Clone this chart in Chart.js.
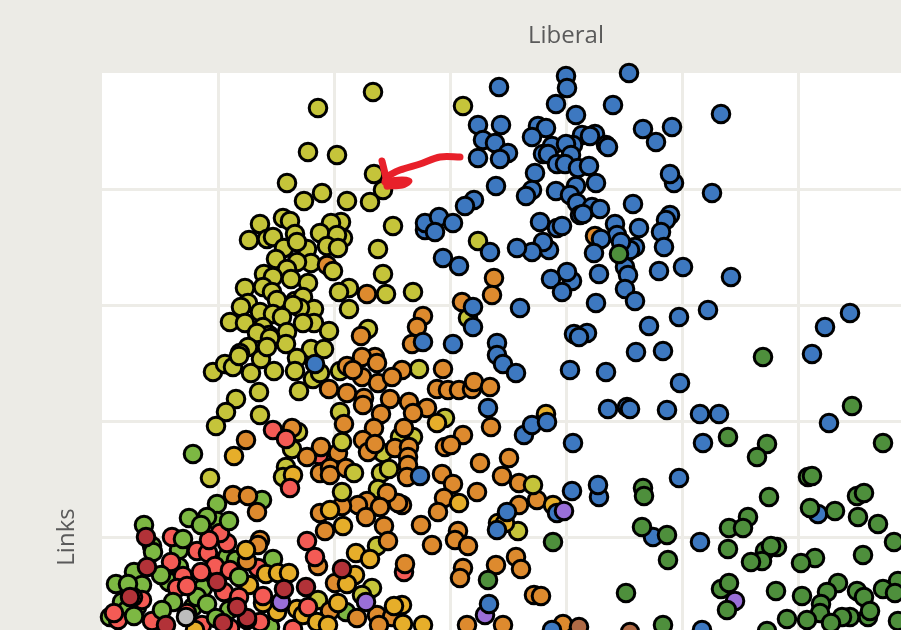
<!DOCTYPE html>
<html>
<head>
<meta charset="utf-8">
<title>Liberal vs Links</title>
<script src="https://cdn.jsdelivr.net/npm/chart.js@4"></script>
<style>
  html, body { margin: 0; height: 100%; overflow: hidden; background: #ecebe6; }
  canvas { display: block; }
</style>
</head>
<body>
<canvas id="linksChart" width="1042" height="1013"></canvas>
<script>
// values, [liberal, links], axis units are arbitrary (no tick labels shown)
const lightGreenBack = [[160,501],[115,497],[42,476],[87,483],[115,480],[105,484],[77,451],[50,455],[51,449],[125,444],[134,441],[171,442],[32,429],[14,417],[40,416],[67,419],[77,434],[101,413],[35,394],[20,399],[25,391],[8,384],[168,374],[91,394],[95,404],[244,389]];
const redBack = [[217,546],[302,429],[70,464],[125,458],[95,450],[106,448],[113,435],[69,439],[81,425],[122,409],[156,433],[128,431],[118,468],[16,381],[50,380],[40,401],[12,388],[31,404],[158,379],[191,372],[128,373],[100,376],[75,413],[85,388]];
const oliveBack = [[271,909],[216,893],[361,895],[206,849],[235,846],[272,827],[281,811],[185,818],[220,808],[202,800],[245,800],[268,799],[291,775],[181,783],[188,780],[158,777],[239,779],[229,778],[218,768],[241,763],[235,766],[193,767],[147,761],[165,762],[171,764],[276,752],[205,752],[225,755],[236,753],[182,753],[195,759],[376,760],[174,742],[209,738],[195,739],[185,732],[281,727],[162,727],[189,722],[206,718],[171,724],[143,713],[161,714],[170,709],[247,713],[237,709],[284,707],[311,709],[175,701],[193,700],[201,704],[146,698],[139,694],[247,692],[212,692],[198,693],[191,696],[158,689],[171,687],[180,684],[128,679],[143,678],[212,678],[201,678],[227,670],[266,672],[366,683],[161,674],[185,669],[167,666],[155,668],[184,657],[146,654],[209,652],[222,652],[168,663],[138,648],[111,629],[123,637],[131,634],[137,645],[149,628],[159,642],[172,630],[165,654],[195,643],[193,630],[211,622],[218,628],[197,610],[157,609],[134,602],[124,589],[158,586],[114,575],[238,630],[317,632],[279,528],[238,589],[196,569],[190,552],[311,564],[298,564],[281,548],[276,512],[108,523],[275,455],[270,413],[260,406],[216,401]];
const orange = [[225,736],[265,707],[321,685],[315,674],[259,665],[360,699],[392,723],[390,706],[310,657],[273,644],[260,644],[245,635],[275,638],[300,631],[260,624],[251,631],[276,618],[290,624],[341,632],[335,612],[346,611],[357,611],[370,612],[372,619],[388,614],[227,612],[245,608],[262,603],[261,596],[288,602],[307,599],[325,593],[311,588],[279,587],[242,577],[272,573],[302,573],[389,574],[361,566],[343,554],[349,556],[261,561],[266,549],[273,557],[293,553],[307,554],[306,544],[306,536],[305,524],[219,554],[205,544],[236,548],[190,573],[378,538],[218,528],[228,533],[228,526],[244,533],[340,527],[351,517],[375,509],[342,503],[336,489],[131,506],[146,505],[155,489],[144,561],[300,496],[296,498],[285,508],[265,500],[256,496],[278,494],[264,484],[240,495],[218,488],[223,470],[282,475],[286,460],[319,476],[356,470],[353,461],[366,455],[330,456],[303,437],[361,433],[358,423],[394,436],[216,435],[233,418],[158,461],[156,456],[145,440],[255,383],[228,390],[275,386],[290,384],[277,376],[365,376],[407,543],[400,525],[417,518],[435,501],[417,496],[414,444],[419,432],[432,406],[439,405],[401,376],[461,377],[493,765]];
const brown = [[477,374],[528,369]];
const oliveFront = [[231,730],[252,528],[287,532],[343,583],[240,559],[240,509],[184,534],[181,524],[431,516],[416,470]];
const amber = [[444,587],[132,545],[228,491],[241,475],[254,448],[268,442],[253,426],[245,417],[357,498],[335,578],[164,427],[176,428],[187,428],[147,416],[144,451],[175,389],[195,392],[201,386],[215,379],[226,376],[300,396],[292,395],[301,377],[321,376],[236,398],[93,371],[396,478],[191,526],[161,398],[145,381],[403,478],[451,496]];
const purpleBack = [[383,386],[633,400]];
const blue = [[376,876],[381,861],[393,858],[376,843],[394,815],[372,801],[363,795],[323,771],[323,778],[337,784],[351,778],[333,769],[388,749],[341,743],[357,735],[371,694],[371,674],[321,659],[351,657],[395,658],[213,637],[318,525],[386,593],[395,646],[387,397],[395,471],[527,928],[464,925],[465,913],[397,914],[454,897],[511,896],[474,886],[619,887],[399,876],[436,875],[444,873],[430,864],[541,872],[570,874],[554,859],[480,866],[493,867],[488,865],[504,856],[506,854],[471,856],[450,855],[464,857],[441,847],[446,847],[406,848],[398,842],[469,846],[455,837],[463,837],[476,833],[487,835],[433,828],[494,818],[474,815],[572,818],[568,827],[610,808],[430,811],[424,805],[454,810],[468,806],[475,798],[490,794],[498,792],[478,786],[481,787],[531,797],[568,786],[564,781],[559,769],[438,779],[455,773],[460,775],[513,777],[537,773],[515,766],[499,762],[533,754],[528,751],[519,759],[447,751],[441,759],[430,749],[415,753],[492,748],[562,754],[523,734],[526,726],[497,727],[470,720],[465,729],[449,722],[557,730],[581,734],[629,724],[460,709],[523,712],[533,700],[494,698],[418,693],[606,691],[577,684],[547,675],[748,688],[723,674],[485,668],[472,667],[477,664],[534,649],[561,650],[710,647],[401,637],[414,628],[468,631],[504,629],[578,618],[506,592],[525,594],[528,592],[565,591],[598,587],[617,587],[727,578],[422,566],[430,576],[445,579],[471,558],[601,558],[577,523],[497,504],[496,516],[470,510],[716,487],[405,489],[455,488],[551,464],[598,459],[450,371],[600,371]];
const darkGreen = [[517,747],[661,644],[750,595],[626,564],[665,557],[655,544],[781,558],[706,524],[710,525],[541,513],[542,505],[667,504],[755,505],[762,508],[708,493],[733,490],[756,484],[776,477],[646,484],[627,473],[641,473],[540,474],[565,466],[451,459],[792,459],[626,452],[675,454],[663,450],[669,455],[660,440],[649,439],[566,441],[713,443],[699,438],[761,446],[524,408],[619,412],[627,418],[736,418],[796,420],[781,412],[725,409],[674,410],[700,405],[755,410],[793,408],[762,404],[719,397],[766,384],[768,390],[718,388],[625,391],[748,384],[740,384],[729,378],[685,382],[705,381],[796,380],[665,370],[561,376],[386,421]];
const redFront = [[171,571],[184,562],[188,513],[205,460],[213,444],[107,461],[99,429],[85,415],[137,404],[161,405],[206,394]];
const lightGreenFront = [[91,547],[99,476],[127,480],[81,462],[59,426],[26,417],[137,424],[71,399],[105,397],[127,391],[60,391],[114,383],[32,385]];
const purpleFront = [[462,490],[179,399],[264,399]];
const darkRed = [[44,464],[115,419],[182,412],[204,414],[240,432],[64,376],[145,383],[45,434],[28,404],[121,378],[135,394]];
const grey = [[84,384]];

const arrowShaft = [[358,844],[338,844],[318,837],[298,831],[285,824],[283,819]];
const arrowHeadA = [[280,840],[284,823],[285,815]];
const arrowHeadB = [[285,820],[300,821],[307,820],[300,816],[286,815]];

const gridStep = 116;
const axisMax = 928;

function pointLayer(points, color) {
  return {
    data: points.map(p => ({ x: p[0], y: p[1] })),
    pointBackgroundColor: color,
    pointBorderColor: "#000",
    pointBorderWidth: 3,
    pointRadius: 8.8,
    showLine: false,
    clip: false
  };
}

function arrowStroke(points) {
  return {
    data: points.map(p => ({ x: p[0], y: p[1] })),
    borderColor: "#e8202a",
    borderWidth: 7,
    borderCapStyle: "round",
    borderJoinStyle: "round",
    tension: 0.3,
    pointRadius: 0,
    showLine: true,
    clip: false
  };
}

// listed bottom to top
const layers = [
  pointLayer(lightGreenBack, "#7db843"),
  pointLayer(redBack, "#f45b55"),
  pointLayer(oliveBack, "#c5c43a"),
  pointLayer(orange, "#dd8a2e"),
  pointLayer(brown, "#b06a45"),
  pointLayer(oliveFront, "#c5c43a"),
  pointLayer(amber, "#e6ae2a"),
  pointLayer(purpleBack, "#9a6fd8"),
  pointLayer(blue, "#3d78c0"),
  pointLayer(darkGreen, "#4e8f3c"),
  pointLayer(redFront, "#f45b55"),
  pointLayer(lightGreenFront, "#7db843"),
  pointLayer(purpleFront, "#9a6fd8"),
  pointLayer(darkRed, "#b23238"),
  pointLayer(grey, "#bdbdbd"),
  arrowStroke(arrowShaft),
  arrowStroke(arrowHeadA),
  arrowStroke(arrowHeadB)
];
layers.forEach((layer, i) => { layer.order = layers.length - i; });

const plotBackground = {
  id: "plotBackground",
  beforeDraw(chart) {
    const a = chart.chartArea;
    chart.ctx.fillStyle = "#fff";
    chart.ctx.fillRect(a.left, a.top, a.right - a.left, a.bottom - a.top);
  }
};

const gridColor = "#edece7";
const titleFont = { family: "'Open Sans'", size: 24 };

new Chart(document.getElementById("linksChart"), {
  type: "scatter",
  data: { datasets: layers },
  plugins: [plotBackground],
  options: {
    responsive: false,
    animation: false,
    layout: { padding: { right: 12, bottom: 12 } },
    plugins: { legend: { display: false }, tooltip: { enabled: false } },
    scales: {
      x: {
        position: "top",
        min: 0,
        max: axisMax,
        grid: { lineWidth: 3, drawTicks: false, color: ctx => ctx.tick.value === 0 ? "transparent" : gridColor },
        border: { display: false },
        ticks: { display: false, stepSize: gridStep },
        title: { display: true, text: "Liberal", color: "#5a5a5a", font: titleFont, padding: { top: 22, bottom: 0 } },
        afterFit(scale) { scale.height = 73; }
      },
      y: {
        min: 0,
        max: axisMax,
        grid: { lineWidth: 3, drawTicks: false, color: ctx => ctx.tick.value === axisMax ? "transparent" : gridColor },
        border: { display: false },
        ticks: { display: false, stepSize: gridStep },
        title: { display: true, text: "Links", color: "#5a5a5a", font: titleFont, padding: { top: 53, bottom: 0 } },
        afterFit(scale) { scale.width = 102; }
      }
    }
  }
});
</script>
</body>
</html>
